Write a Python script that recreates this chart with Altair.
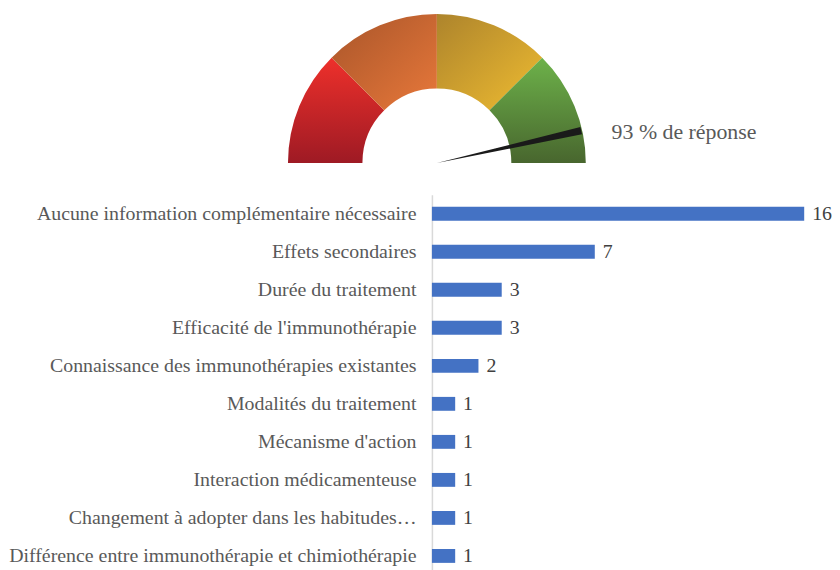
import math
import altair as alt
import pandas as pd

# ---------------- data ----------------
categories = [
    "Aucune information complémentaire nécessaire",
    "Effets secondaires",
    "Durée du traitement",
    "Efficacité de l'immunothérapie",
    "Connaissance des immunothérapies existantes",
    "Modalités du traitement",
    "Mécanisme d'action",
    "Interaction médicamenteuse",
    "Changement à adopter dans les habitudes…",
    "Différence entre immunothérapie et chimiothérapie",
]
counts = [16, 7, 3, 3, 2, 1, 1, 1, 1, 1]

gauge_start = [0, 25, 50, 75]
gauge_end = [25, 50, 75, 100]
response_rate = 93

# ---------------- styling ----------------
FONT = "Liberation Serif"
LABEL_COLOR = "#595959"
BAR_COLOR = "#4472C4"
CX, CY = 5, 154            # gauge centre, relative to the bar plot's left edge
R_OUT, R_IN = 150, 75
NEEDLE_HALF = 0.8          # half width of needle in gauge units

gradients = [
    alt.Gradient(gradient="linear", x1=0, y1=0, x2=0, y2=1,
                 stops=[alt.GradientStop(color="#ee302b", offset=0),
                        alt.GradientStop(color="#9e1a24", offset=1)]),
    alt.Gradient(gradient="linear", x1=0, y1=0, x2=1, y2=1,
                 stops=[alt.GradientStop(color="#a8552a", offset=0),
                        alt.GradientStop(color="#e8783a", offset=1)]),
    alt.Gradient(gradient="linear", x1=0, y1=0, x2=1, y2=1,
                 stops=[alt.GradientStop(color="#ad842c", offset=0),
                        alt.GradientStop(color="#efbc31", offset=1)]),
    alt.Gradient(gradient="linear", x1=0, y1=0, x2=0, y2=1,
                 stops=[alt.GradientStop(color="#6db24a", offset=0),
                        alt.GradientStop(color="#48662e", offset=1)]),
]

seg_df = pd.DataFrame({"seg": list(range(len(gauge_start))),
                       "start": gauge_start, "end": gauge_end})
needle_df = pd.DataFrame({"lo": [response_rate - NEEDLE_HALF],
                          "hi": [response_rate + NEEDLE_HALF]})
label_df = pd.DataFrame({"label": [f"{response_rate} % de réponse"]})

theta_scale = alt.Scale(domain=[0, 100], range=[-math.pi / 2, math.pi / 2])

layers = []
for i, g in enumerate(gradients):
    layers.append(
        alt.Chart(seg_df)
        .transform_filter(alt.datum.seg == i)
        .mark_arc(radius=R_OUT, radius2=R_IN, fill=g)
        .encode(theta=alt.Theta("start:Q", scale=theta_scale),
                theta2="end:Q",
                x=alt.value(CX), y=alt.value(CY))
    )

needle = (
    alt.Chart(needle_df)
    .mark_arc(radius=R_OUT - 1, radius2=0, fill="#1a1a1a")
    .encode(theta=alt.Theta("lo:Q", scale=theta_scale), theta2="hi:Q",
            x=alt.value(CX), y=alt.value(CY))
)

gauge_text = (
    alt.Chart(label_df)
    .mark_text(align="left", baseline="middle", font=FONT, fontSize=22,
               color=LABEL_COLOR)
    .encode(text="label:N", x=alt.value(181), y=alt.value(123))
)

gauge = alt.layer(*layers, needle, gauge_text).properties(width=375, height=166)

bar_df = pd.DataFrame({"cat": categories, "n": counts})

base = alt.Chart(bar_df).encode(
    y=alt.Y("cat:N", sort=categories, title=None,
            scale=alt.Scale(paddingInner=0.635, paddingOuter=0.3175),
            axis=alt.Axis(labelFont=FONT, labelFontSize=20, labelColor=LABEL_COLOR,
                          labelLimit=0, ticks=False, tickSize=0, labelPadding=16,
                          domainColor="#d9d9d9", domainWidth=1.5, grid=False)),
    x=alt.X("n:Q", axis=None, scale=alt.Scale(domain=[0, 16], nice=False)),
)
bars = base.mark_bar(color=BAR_COLOR)
values = base.mark_text(align="left", baseline="middle", dx=8, font=FONT,
                        fontSize=20, color="#404040").encode(text="n:Q")

bar_chart = (bars + values).properties(width=375, height=383)

chart = (
    alt.vconcat(gauge, bar_chart, spacing=20)
    .properties(padding=0)
    .configure_view(stroke=None)
)

chart.save("out.html", embed_options={"renderer": "svg", "actions": False})
